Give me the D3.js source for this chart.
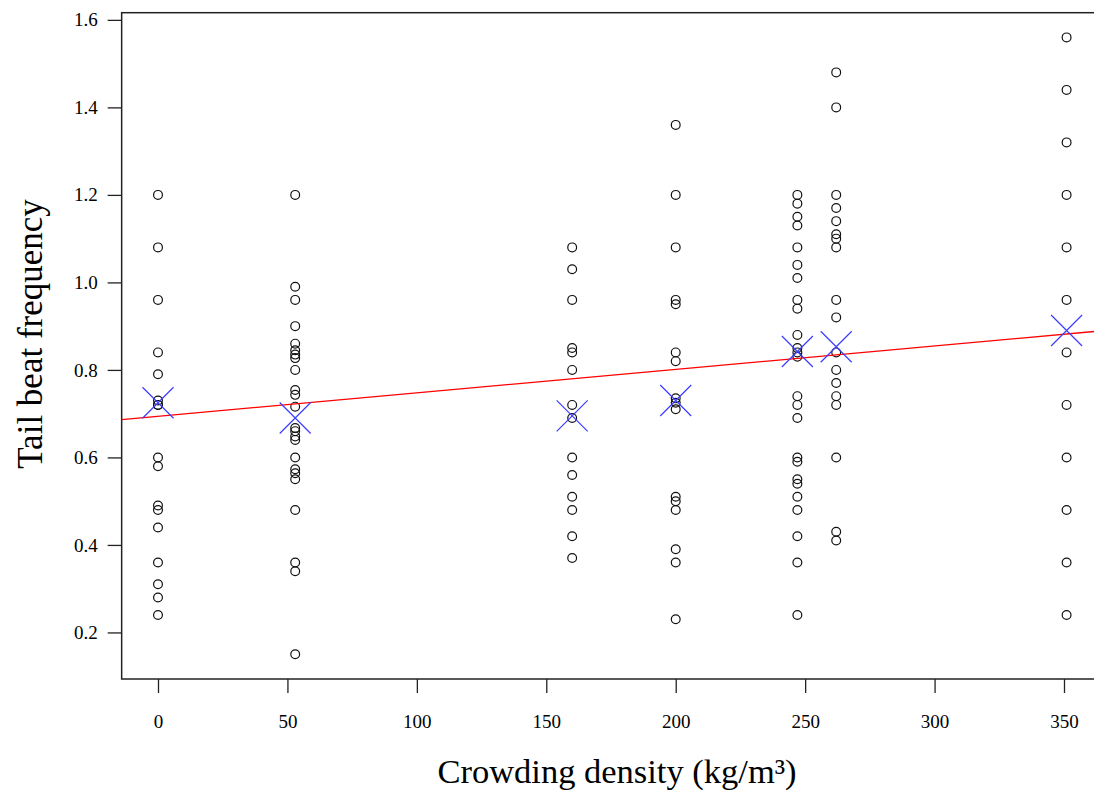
<!DOCTYPE html>
<html>
<head>
<meta charset="utf-8">
<script src="https://cdn.jsdelivr.net/npm/d3@7/dist/d3.min.js"></script>
<style>
  html, body { margin: 0; padding: 0; background: #fff; }
  svg { display: block; }
  text { font-family: "Liberation Serif", "Times New Roman", serif; fill: #000; }
</style>
</head>
<body>
<svg id="chart" width="1094" height="791"></svg>
<script>
// Crowding density levels (kg/m³)
const densityLevels = [0, 53, 160, 200, 247, 262, 351];

// Tail beat frequency observations at each density level
const tbf0   = [1.20, 1.08, 0.96, 0.84, 0.79, 0.73, 0.72, 0.72, 0.60, 0.58, 0.49, 0.48, 0.44, 0.36, 0.31, 0.28, 0.24];
const tbf53  = [1.20, 0.99, 0.96, 0.90, 0.86, 0.845, 0.835, 0.827, 0.80, 0.754, 0.743, 0.716, 0.667, 0.66, 0.648, 0.64, 0.60, 0.573, 0.564, 0.55, 0.48, 0.36, 0.34, 0.15];
const tbf160 = [1.08, 1.03, 0.96, 0.85, 0.84, 0.80, 0.72, 0.69, 0.60, 0.56, 0.51, 0.48, 0.42, 0.37];
const tbf200 = [1.36, 1.20, 1.08, 0.96, 0.95, 0.84, 0.82, 0.735, 0.725, 0.71, 0.51, 0.50, 0.48, 0.39, 0.36, 0.23];
const tbf247 = [1.20, 1.18, 1.15, 1.13, 1.08, 1.04, 1.01, 0.96, 0.94, 0.88, 0.85, 0.84, 0.83, 0.74, 0.72, 0.69, 0.60, 0.59, 0.55, 0.54, 0.51, 0.48, 0.42, 0.36, 0.24];
const tbf262 = [1.48, 1.40, 1.20, 1.17, 1.14, 1.11, 1.10, 1.08, 0.96, 0.92, 0.84, 0.80, 0.77, 0.74, 0.72, 0.60, 0.43, 0.41];
const tbf351 = [1.56, 1.44, 1.32, 1.20, 1.08, 0.96, 0.84, 0.72, 0.60, 0.48, 0.36, 0.24];

// Group means (blue crosses)
const groupMeans = [0.725, 0.69, 0.695, 0.73, 0.842, 0.853, 0.89];

// Linear fit: frequency = intercept + slope * density
const fitIntercept = 0.694;
const fitSlope = 0.000536;

// Axis ticks
const xTicks = [0, 50, 100, 150, 200, 250, 300, 350];
const yTicks = [0.2, 0.4, 0.6, 0.8, 1.0, 1.2, 1.4, 1.6];

const groups = [tbf0, tbf53, tbf160, tbf200, tbf247, tbf262, tbf351];
const points = [];
groups.forEach((vals, i) => vals.forEach(v => points.push({ x: densityLevels[i], y: v })));

const svg = d3.select("#chart");
svg.append("rect").attr("width", 1094).attr("height", 791).attr("fill", "#fff");

// Data ranges padded by 4% on each side
const xMin = 0, xMax = 351, yMin = 0.15, yMax = 1.56;
const xPad = (xMax - xMin) * 0.04, yPad = (yMax - yMin) * 0.04;
const pxPerUnit = 906 / 350;
const left = 158 - (xMin + xPad) * pxPerUnit;
const x = d3.scaleLinear()
  .domain([xMin - xPad, xMax + xPad])
  .range([left, left + (xMax - xMin + 2 * xPad) * pxPerUnit]);
const y = d3.scaleLinear()
  .domain([yMin - yPad, yMax + yPad])
  .range([679, 12.7]);

const [px0, px1] = x.range();
const [py0, py1] = y.range();

// Clip region for marks
svg.append("clipPath").attr("id", "plotClip")
  .append("rect").attr("x", px0).attr("y", py1).attr("width", px1 - px0).attr("height", py0 - py1);

// Axes
const yAxis = d3.axisLeft(y).tickValues(yTicks).tickFormat(d3.format(".1f"))
  .tickSizeInner(14).tickSizeOuter(0).tickPadding(10);
const gy = svg.append("g").attr("transform", `translate(${px0},0)`).call(yAxis);
gy.select(".domain").remove();
gy.selectAll(".tick line").attr("stroke", "#222").attr("stroke-width", 1.3);
gy.selectAll(".tick text").style("font-size", "19px").attr("fill", "#000");

const xAxis = d3.axisBottom(x).tickValues(xTicks).tickFormat(d3.format("d"))
  .tickSizeInner(14).tickSizeOuter(0).tickPadding(22);
const gx = svg.append("g").attr("transform", `translate(0,${py0})`).call(xAxis);
gx.select(".domain").remove();
gx.selectAll(".tick line").attr("stroke", "#222").attr("stroke-width", 1.3);
gx.selectAll(".tick text").style("font-size", "19px").attr("fill", "#000");

// Plot frame
svg.append("rect")
  .attr("x", px0).attr("y", py1)
  .attr("width", px1 - px0).attr("height", py0 - py1)
  .attr("fill", "none").attr("stroke", "#222").attr("stroke-width", 1.5);

const plot = svg.append("g").attr("clip-path", "url(#plotClip)");

// Observations
plot.append("g").selectAll("circle").data(points).join("circle")
  .attr("cx", d => x(d.x)).attr("cy", d => y(d.y)).attr("r", 4.4)
  .attr("fill", "none").attr("stroke", "#111").attr("stroke-width", 1.2);

// Fitted line across the full plot width
const [dx0, dx1] = x.domain();
plot.append("line")
  .attr("x1", x(dx0)).attr("y1", y(fitIntercept + fitSlope * dx0))
  .attr("x2", x(dx1)).attr("y2", y(fitIntercept + fitSlope * dx1))
  .attr("stroke", "#ff0000").attr("stroke-width", 1.3);

// Group means as crosses
const s = 15.5;
plot.append("g").selectAll("path")
  .data(densityLevels.map((d, i) => ({ x: d, y: groupMeans[i] })))
  .join("path")
  .attr("d", d => {
    const cx = x(d.x), cy = y(d.y);
    return `M${cx - s},${cy - s}L${cx + s},${cy + s}M${cx - s},${cy + s}L${cx + s},${cy - s}`;
  })
  .attr("fill", "none").attr("stroke", "#3c3cff").attr("stroke-width", 1.2);

// Axis titles
svg.append("text")
  .attr("x", 617).attr("y", 783)
  .attr("text-anchor", "middle").style("font-size", "34.5px")
  .text("Crowding density (kg/m³)");

svg.append("text")
  .attr("transform", "translate(42,334) rotate(-90)")
  .attr("text-anchor", "middle").style("font-size", "35px")
  .text("Tail beat frequency");
</script>
</body>
</html>
